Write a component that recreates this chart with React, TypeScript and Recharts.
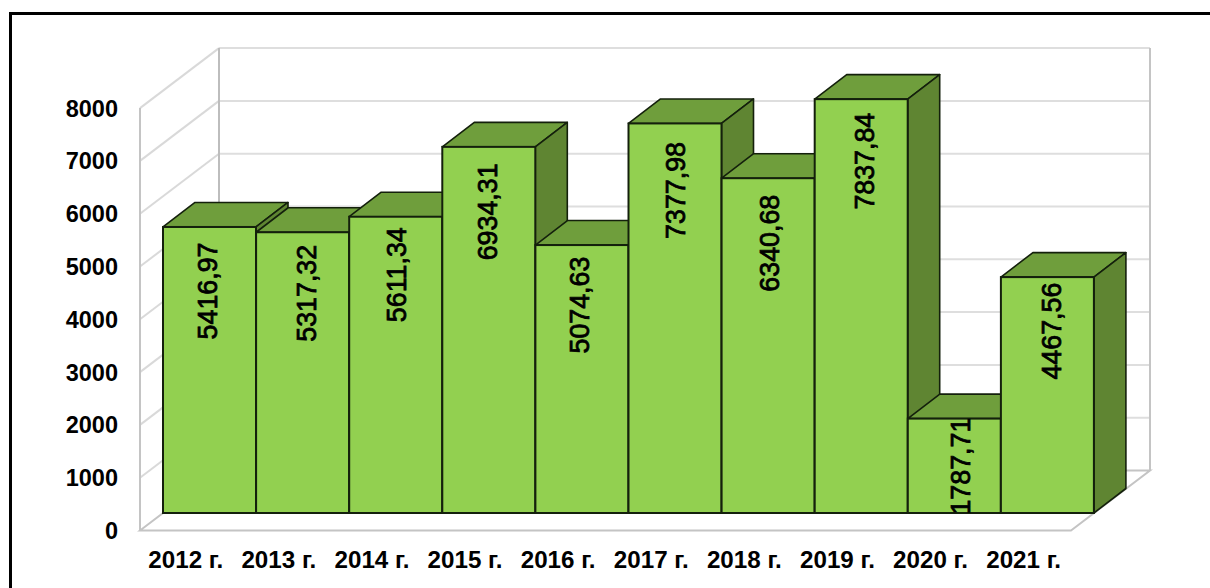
import React from 'react'
import { BarChart, Bar, XAxis, YAxis, CartesianGrid } from 'recharts'

const categories = ['2012 г.', '2013 г.', '2014 г.', '2015 г.', '2016 г.', '2017 г.', '2018 г.', '2019 г.', '2020 г.', '2021 г.']
const values = [5416.97, 5317.32, 5611.34, 6934.31, 5074.63, 7377.98, 6340.68, 7837.84, 1787.71, 4467.56]
const yTicks = [0, 1000, 2000, 3000, 4000, 5000, 6000, 7000, 8000]

const data = categories.map((name, i) => ({ name, value: values[i] }))

const FONT = '"Liberation Sans", Arial, sans-serif'
const PLOT_LEFT = 163
const PLOT_RIGHT = 1094
const PLOT_TOP = 90.6
const PLOT_BOTTOM = 513

// bar depth
const DX = 32
const DY = 24.5

// the walls sit around the bars: front edge and back edge relative to the plot
const FRONT_X = -23
const FRONT_Y = 17.5
const BACK_X = 56
const BACK_Y = -42.5

// hand placed data labels in the original, so each bar has its own nudge
const LABEL_SHIFT_X = [-1.5, 4, 1, -1, -2, 1.5, 2, 4, 7, 4.5]
const LABEL_DROP_Y = [64, 61, 58, 65, 60, 67, 65, 62, 47.5, 54]

const Box = (props: any) => {
  const { x, y, width, height, payload, index } = props
  const stroke = '#14200c'
  const clipId = `face-${index}`
  const cy = y + LABEL_DROP_Y[index]
  const cx = x + width / 2 + LABEL_SHIFT_X[index]
  return (
    <g>
      <path
        d={`M${x},${y} L${x + DX},${y - DY} L${x + width + DX},${y - DY} L${x + width},${y} Z`}
        fill="#6f9e3c"
        stroke={stroke}
        strokeWidth={1.6}
        strokeLinejoin="round"
      />
      <path
        d={`M${x + width},${y} L${x + width + DX},${y - DY} L${x + width + DX},${y + height - DY} L${x + width},${y + height} Z`}
        fill="#5f8532"
        stroke={stroke}
        strokeWidth={1.6}
        strokeLinejoin="round"
      />
      <rect x={x} y={y} width={width} height={height} fill="#92d050" stroke={stroke} strokeWidth={2} />
      <clipPath id={clipId}>
        <rect x={x} y={y} width={width} height={height} />
      </clipPath>
      <g clipPath={`url(#${clipId})`}>
        <text
          x={cx}
          y={cy}
          transform={`rotate(-90 ${cx} ${cy})`}
          textAnchor="middle"
          dominantBaseline="central"
          fontFamily={FONT}
          fontSize={26.8}
          fill="#000"
          stroke="#000"
          strokeWidth={0.8}
        >
          {payload.value.toFixed(2).replace('.', ',')}
        </text>
      </g>
    </g>
  )
}

const WallLine = (props: any) => {
  const { y1 } = props
  const left = PLOT_LEFT
  const right = PLOT_RIGHT
  const isFloor = Math.abs(y1 - PLOT_BOTTOM) < 1
  const isTop = Math.abs(y1 - PLOT_TOP) < 1
  return (
    <g key={props.key}>
      {!isFloor && (
        <>
          <line x1={left + FRONT_X} y1={y1 + FRONT_Y} x2={left + BACK_X} y2={y1 + BACK_Y} stroke="#d9d9d9" strokeWidth={2} />
          <line x1={left + BACK_X} y1={y1 + BACK_Y} x2={right + BACK_X} y2={y1 + BACK_Y} stroke="#dedede" strokeWidth={2} />
        </>
      )}
      {isTop && (
        <>
          <line x1={left + FRONT_X} y1={PLOT_TOP + FRONT_Y} x2={left + FRONT_X} y2={PLOT_BOTTOM + FRONT_Y} stroke="#c4c4c4" strokeWidth={2} />
          <line x1={left + BACK_X} y1={PLOT_TOP + BACK_Y} x2={left + BACK_X} y2={PLOT_BOTTOM + BACK_Y} stroke="#bdbdbd" strokeWidth={2} />
          <line x1={right + BACK_X} y1={PLOT_TOP + BACK_Y} x2={right + BACK_X} y2={PLOT_BOTTOM + BACK_Y} stroke="#c4c4c4" strokeWidth={2} />
        </>
      )}
      {isFloor && (
        <path
          d={`M${left + FRONT_X},${y1 + FRONT_Y} L${left + BACK_X},${y1 + BACK_Y} L${right + BACK_X},${y1 + BACK_Y} L${right + FRONT_X},${y1 + FRONT_Y} Z`}
          fill="#fff"
          stroke="#c4c4c4"
          strokeWidth={2}
        />
      )}
    </g>
  )
}

const YTick = (props: any) => {
  const { y, payload } = props
  return (
    <text x={118} y={y + FRONT_Y + 0.5} textAnchor="end" dominantBaseline="central" fontFamily={FONT} fontWeight="bold" fontSize={23.5} fill="#000">
      {payload.value}
    </text>
  )
}

const XTick = (props: any) => {
  const { x, payload } = props
  return (
    <text x={x + FRONT_X - 0.8} y={559} textAnchor="middle" dominantBaseline="central" fontFamily={FONT} fontWeight="bold" fontSize={24.2} fill="#000">
      {payload.value}
    </text>
  )
}

export default function App() {
  return (
    <div style={{ position: 'absolute', left: 0, top: 0, width: 1210, height: 588, background: '#fff', overflow: 'hidden' }}>
      <div style={{ position: 'absolute', left: 9, top: 12, right: -4, bottom: -4, borderTop: '3px solid #000', borderLeft: '3px solid #000' }} />
      <div style={{ position: 'absolute', left: 0, top: 0 }}>
        <BarChart
          width={1210}
          height={588}
          data={data}
          barCategoryGap={0}
          margin={{ top: PLOT_TOP, right: 1210 - PLOT_RIGHT, bottom: 45, left: 140 }}
        >
          <CartesianGrid vertical={false} horizontal={(p: any) => <WallLine {...p} />} />
          <XAxis dataKey="name" height={30} axisLine={false} tickLine={false} interval={0} tick={<XTick />} />
          <YAxis width={23} domain={[0, 8000]} ticks={yTicks} axisLine={false} tickLine={false} tick={<YTick />} />
          <Bar dataKey="value" isAnimationActive={false} shape={<Box />} />
        </BarChart>
      </div>
    </div>
  )
}
